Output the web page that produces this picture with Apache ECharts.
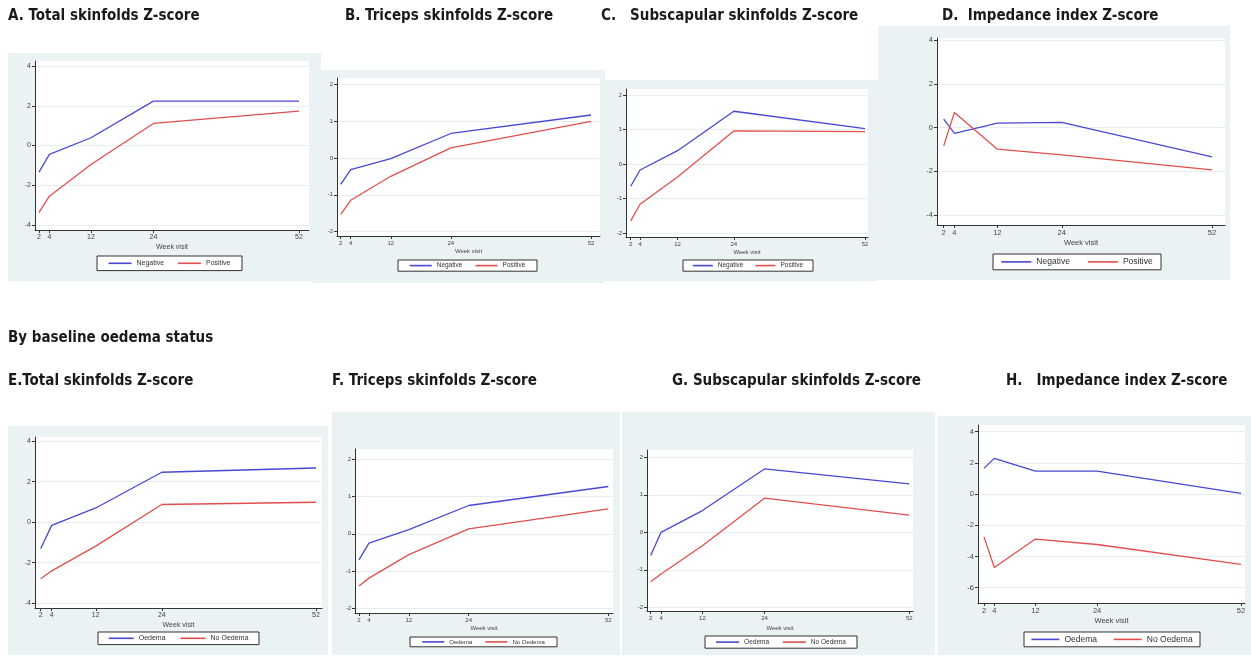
<!DOCTYPE html>
<html><head><meta charset="utf-8">
<script src="https://cdn.jsdelivr.net/npm/echarts@6/dist/echarts.min.js"></script>
<style>html,body{margin:0;padding:0;background:#fff}#c{width:1251px;height:658px}</style>
</head><body><div id="c"></div>
<script>
// ---------- data ----------
const weeks = [2, 4, 12, 24, 52];
const weekTicks = [2, 4, 12, 24, 52];
const hivNames = ['Negative', 'Positive'];
const oedemaNames = ['Oedema', 'No Oedema'];
const ticks4 = [-4, -2, 0, 2, 4];
const ticks2 = [-2, -1, 0, 1, 2];
const ticks6 = [-6, -4, -2, 0, 2, 4];

const totalNegative   = [-1.34, -0.45, 0.39, 2.23, 2.23];
const totalPositive   = [-3.36, -2.55, -0.96, 1.11, 1.73];
const tricepsNegative = [-0.72, -0.32, -0.02, 0.66, 1.16];
const tricepsPositive = [-1.53, -1.15, -0.50, 0.27, 0.99];
const subscapNegative = [-0.64, -0.17, 0.39, 1.53, 1.03];
const subscapPositive = [-1.64, -1.16, -0.37, 0.96, 0.94];
const impedNegative   = [0.38, -0.27, 0.20, 0.23, -1.34];
const impedPositive   = [-0.84, 0.69, -0.99, -1.25, -1.94];
const totalOedema     = [-1.30, -0.16, 0.70, 2.46, 2.67];
const totalNoOedema   = [-2.79, -2.40, -1.18, 0.87, 0.98];
const tricepsOedema   = [-0.70, -0.25, 0.11, 0.76, 1.27];
const tricepsNoOedema = [-1.40, -1.19, -0.56, 0.13, 0.67];
const subscapOedema   = [-0.62, 0.00, 0.58, 1.69, 1.29];
const subscapNoOedema = [-1.32, -1.11, -0.36, 0.91, 0.46];
const impedOedema     = [1.65, 2.29, 1.47, 1.47, 0.04];
const impedNoOedema   = [-2.74, -4.70, -2.88, -3.23, -4.51];

const panelTitles = ['A. Total skinfolds Z-score', 'B. Triceps skinfolds Z-score', 'C.   Subscapular skinfolds Z-score', 'D.  Impedance index Z-score',
  'E.Total skinfolds Z-score', 'F. Triceps skinfolds Z-score', 'G. Subscapular skinfolds Z-score', 'H.   Impedance index Z-score'];
const sectionTitle = 'By baseline oedema status';
const xName = 'Week visit';

// ---------- layout ----------
const BLUE = '#4848d2', RED = '#e24e4e', BG = '#eaf2f3';
const TFONT = '"Liberation Sans Narrow","DejaVu Sans Condensed",sans-serif';
const LFONT = '"Liberation Sans",Arial,sans-serif';
const panels = [
  {tx:8,   ty:9,   bg:[8,53,321,281],    plot:[35,61,309,230],   xpx:[39,299],      ypx:[66,225],      yr:[4,-4], ticks:ticks4, s:[totalNegative,totalPositive],     names:hivNames,    leg:[97,256,145,16],  fs:7,   lfs:7,   iw:23, ng:13.5},
  {tx:345, ty:9,   bg:[312,70,605,283],  plot:[337,78,600,236],  xpx:[340.7,591],   ypx:[84,231.7],    yr:[2,-2], ticks:ticks2, s:[tricepsNegative,tricepsPositive], names:hivNames,    leg:[398,260,139,12], fs:6,   lfs:6.5, iw:22, ng:12},
  {tx:601, ty:9,   bg:[603,80,878,281],  plot:[626,89,868,237],  xpx:[630.7,865],   ypx:[95,233.3],    yr:[2,-2], ticks:ticks2, s:[subscapNegative,subscapPositive], names:hivNames,    leg:[683,260,130,12], fs:6,   lfs:6.5, iw:20, ng:12},
  {tx:942, ty:9,   bg:[878,26,1230,280], plot:[937,38,1225,225], xpx:[943.7,1212],  ypx:[40,215],      yr:[4,-4], ticks:ticks4, s:[impedNegative,impedPositive],     names:hivNames,    leg:[993,254,168,17], fs:7.5, lfs:8.5, iw:30, ng:14},
  {tx:8,   ty:374, bg:[8,426,328,655],   plot:[35,437,322,608],  xpx:[40.7,316],    ypx:[441,603.3],   yr:[4,-4], ticks:ticks4, s:[totalOedema,totalNoOedema],       names:oedemaNames, leg:[98,632,161,14],  fs:7,   lfs:7,   iw:25, ng:13.5},
  {tx:332, ty:374, bg:[332,412,620,655], plot:[355,449,613,613], xpx:[359,608.3],   ypx:[459.3,608.3], yr:[2,-2], ticks:ticks2, s:[tricepsOedema,tricepsNoOedema],   names:oedemaNames, leg:[410,637,147,11], fs:6,   lfs:6,   iw:22, ng:12},
  {tx:672, ty:374, bg:[622,412,935,655], plot:[647,450,913,611], xpx:[650.7,909.3], ypx:[457.3,607.3], yr:[2,-2], ticks:ticks2, s:[subscapOedema,subscapNoOedema],   names:oedemaNames, leg:[705,636,152,13], fs:6,   lfs:6.5, iw:23, ng:14},
  {tx:1006,ty:374, bg:[938,416,1251,655],plot:[978,425,1245,603],xpx:[984,1241],    ypx:[431.7,587.7], yr:[4,-6], ticks:ticks6, s:[impedOedema,impedNoOedema],       names:oedemaNames, leg:[1024,632,176,16],fs:7.5, lfs:8.5, iw:28, ng:14}
];

const ctx = document.createElement('canvas').getContext('2d');
function tw(t, fs) { ctx.font = fs + 'px ' + LFONT; return ctx.measureText(t).width; }

const option = {
  backgroundColor: '#fff',
  animation: false,
  title: [], grid: [], xAxis: [], yAxis: [], series: [], legend: [],
  graphic: []
};

panels.forEach((p, i) => {
  const [l, t, r, b] = p.plot;
  const pxw = (p.xpx[1] - p.xpx[0]) / (weeks[weeks.length - 1] - weeks[0]);
  const xmin = weeks[0] - (p.xpx[0] - l) / pxw;
  const xmax = weeks[weeks.length - 1] + (r - p.xpx[1]) / pxw;
  const pyu = (p.ypx[1] - p.ypx[0]) / (p.yr[0] - p.yr[1]);
  const ymax = p.yr[0] + (p.ypx[0] - t) / pyu;
  const ymin = p.yr[1] - (b - p.ypx[1]) / pyu;

  option.graphic.push({type:'rect', z:-100, silent:true,
    shape:{x:p.bg[0], y:p.bg[1], width:p.bg[2]-p.bg[0], height:p.bg[3]-p.bg[1]},
    style:{fill:BG}});

  option.title.push({text: panelTitles[i], left: p.tx, top: p.ty, padding: 0,
    textStyle:{fontFamily:TFONT, fontWeight:'bold', fontSize:15, color:'#1a1a1a'}});

  option.grid.push({left:l, top:t, width:r-l, height:b-t, show:true, backgroundColor:'#fff',
    borderWidth:0, containLabel:false, outerBoundsMode:'none'});

  option.xAxis.push({type:'value', gridIndex:i, min:xmin, max:xmax,
    axisLine:{show:true, onZero:false, lineStyle:{color:'#333', width:1}},
    axisTick:{show:true, length:3, customValues:weekTicks, lineStyle:{color:'#333'}},
    axisLabel:{customValues:weekTicks, fontSize:p.fs, color:'#444', margin:4, fontFamily:LFONT},
    splitLine:{show:false},
    name:xName, nameLocation:'middle', nameGap:p.ng,
    nameTextStyle:{fontSize:p.fs, color:'#444', fontFamily:LFONT}});

  option.yAxis.push({type:'value', gridIndex:i, min:ymin, max:ymax,
    axisLine:{show:true, onZero:false, lineStyle:{color:'#333', width:1}},
    axisTick:{show:true, length:3, customValues:p.ticks, lineStyle:{color:'#333'}},
    axisLabel:{customValues:p.ticks, fontSize:p.fs, color:'#444', margin:4, fontFamily:LFONT},
    splitLine:{show:true, lineStyle:{color:'#e6eeef', width:1}}});

  const colors = [BLUE, RED];
  p.s.forEach((arr, k) => {
    option.series.push({type:'line', name:p.names[k], xAxisIndex:i, yAxisIndex:i,
      data: weeks.map((w, j) => [w, arr[j]]),
      symbol:'none', color:colors[k], lineStyle:{width:1.3, color:colors[k]}});
  });

  const [ll, lt, lw, lh] = p.leg;
  const gap = p.iw * 0.6;
  const content = 2 * (p.iw + 5) + tw(p.names[0], p.lfs) + tw(p.names[1], p.lfs) + gap;
  const ph = Math.max(1, (lw - content) / 2);
  const pv = Math.max(1, (lh - p.lfs * 1.2) / 2);
  option.legend.push({data:p.names, left:ll, top:lt, orient:'horizontal',
    padding:[pv, ph], itemWidth:p.iw, itemHeight:1.6, itemGap:gap, icon:'rect',
    borderColor:'#333', borderWidth:1, backgroundColor:'#fff', selectedMode:false,
    textStyle:{fontSize:p.lfs, color:'#333', fontFamily:LFONT, padding:[0,0,0,0]}});
});

option.title.push({text: sectionTitle, left: 8, top: 331, padding: 0,
  textStyle:{fontFamily:TFONT, fontWeight:'bold', fontSize:15, color:'#1a1a1a'}});

const chart = echarts.init(document.getElementById('c'), null, {renderer:'canvas'});
chart.setOption(option);
</script>
</body></html>
